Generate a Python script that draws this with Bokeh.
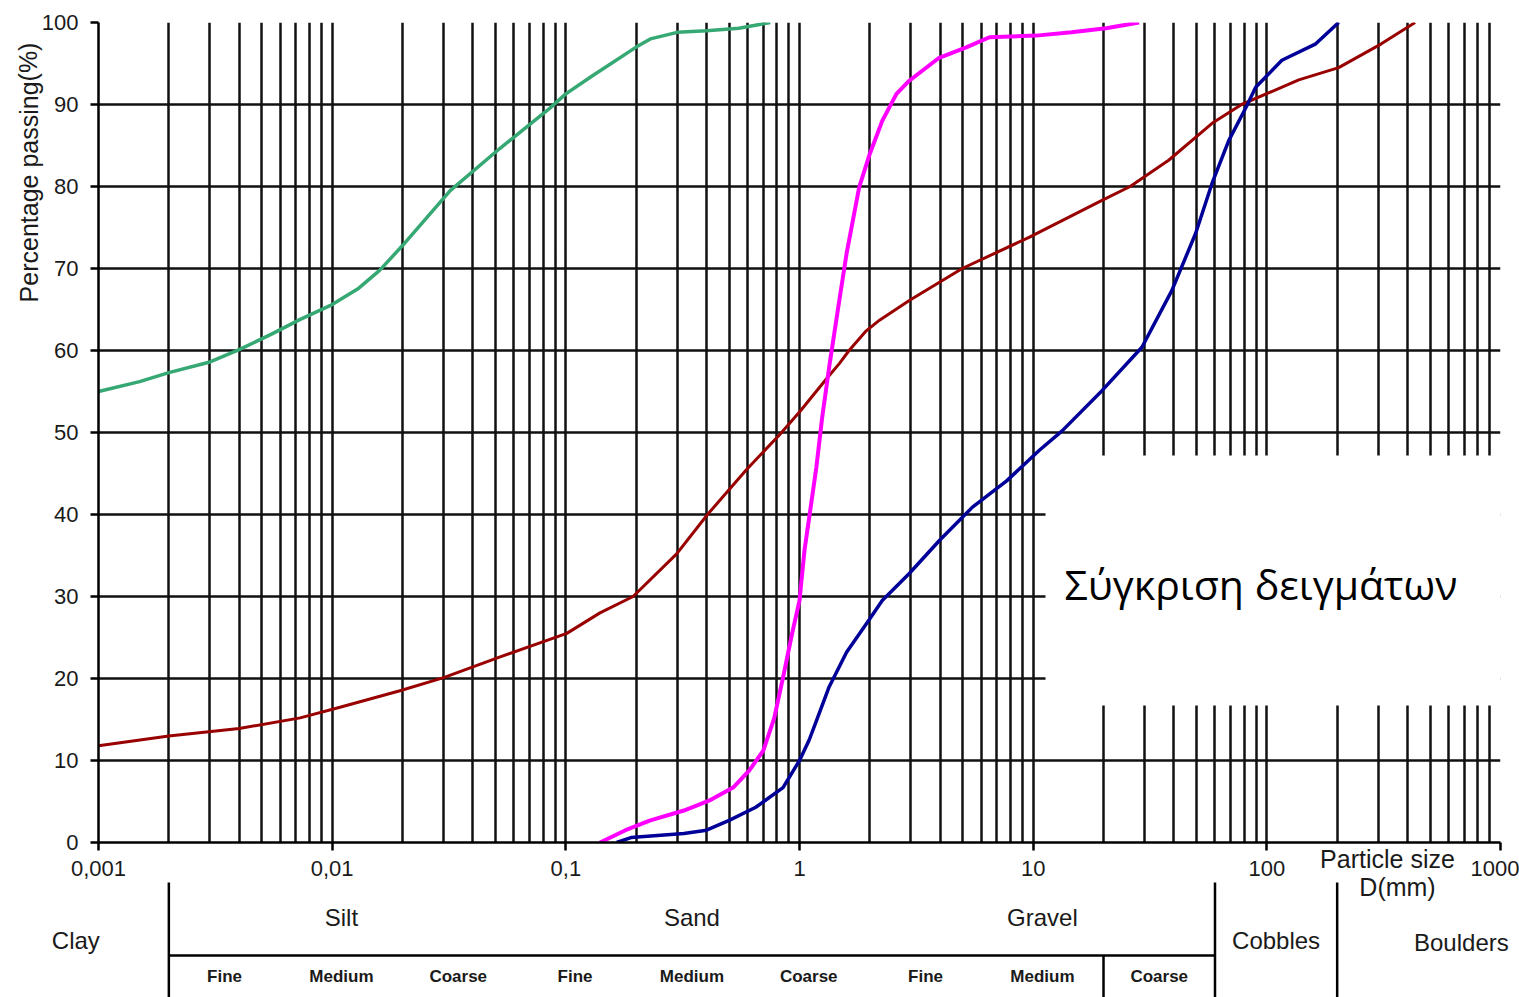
import numpy as np
from bokeh.plotting import figure
from bokeh.models import (FixedTicker, CustomJSTickFormatter, Label, BoxAnnotation,
                          ColumnDataSource, Range1d)
from bokeh.core.properties import value
from bokeh.embed import file_html
from bokeh.resources import INLINE

# ---- grading curves: particle size D (mm) vs percentage passing (%) ----
clay_d = [0.001, 0.0015, 0.002, 0.003, 0.004, 0.0055, 0.0073, 0.01, 0.013, 0.016, 0.02,
          0.032, 0.052, 0.085, 0.1, 0.13, 0.2, 0.23, 0.3, 0.4, 0.55, 0.75]
clay_p = [55.0, 56.2, 57.3, 58.6, 60.1, 62.0, 63.8, 65.6, 67.6, 69.8, 72.8,
          79.5, 84.6, 89.5, 91.3, 93.5, 97.0, 98.0, 98.8, 99.0, 99.3, 100.0]

sand_d = [0.14, 0.18, 0.23, 0.32, 0.41, 0.52, 0.61, 0.70, 0.78, 0.85, 0.93, 1.0,
          1.05, 1.10, 1.18, 1.25, 1.34, 1.48, 1.59, 1.80, 2.0, 2.26, 2.6, 2.95,
          3.96, 5.2, 6.5, 10.3, 14.6, 20.5, 28.4]
sand_p = [0.0, 1.5, 2.7, 3.9, 5.1, 6.7, 8.8, 11.2, 15.2, 20.1, 25.5, 29.5,
          35.6, 39.6, 45.7, 51.8, 58.0, 66.1, 71.8, 79.9, 84.0, 88.0, 91.3, 92.9,
          95.7, 97.0, 98.2, 98.4, 98.8, 99.3, 100.0]

gravel_d = [0.165, 0.19, 0.32, 0.40, 0.50, 0.65, 0.85, 1.0, 1.1, 1.18, 1.34, 1.59,
            1.99, 2.26, 2.95, 3.96, 5.5, 7.7, 10.6, 13.3, 19.7, 29.2, 39.2, 49.6,
            58.3, 68.7, 81.3, 89.6, 116.0, 162.0, 203.0]
gravel_p = [0.0, 0.6, 1.1, 1.5, 2.7, 4.3, 6.7, 10.0, 12.5, 14.8, 19.0, 23.2,
            27.2, 29.5, 32.8, 36.8, 40.9, 44.1, 47.8, 50.2, 55.1, 60.4, 67.3, 74.3,
            80.4, 85.6, 89.6, 92.1, 95.4, 97.4, 100.0]

mixed_d = [0.001, 0.002, 0.004, 0.0073, 0.0108, 0.0195, 0.03, 0.052, 0.101, 0.14,
           0.194, 0.298, 0.404, 0.59, 0.82, 1.0, 1.30, 1.48, 1.63, 1.93, 2.2, 2.95,
           4.97, 9.6, 19.7, 26.0, 38.0, 58.3, 78.0, 137.0, 203.0, 309.0, 431.0]
mixed_p = [11.8, 13.0, 13.9, 15.2, 16.5, 18.5, 20.1, 22.6, 25.5, 28.0,
           30.0, 35.2, 40.0, 45.4, 49.7, 52.5, 56.5, 58.4, 60.0, 62.4, 63.7, 66.1,
           70.0, 73.8, 78.3, 80.0, 83.2, 87.7, 90.0, 93.0, 94.5, 97.4, 100.0]

# ---- axis ticks ----
decades = [0.001, 0.01, 0.1, 1, 10, 100, 1000]
y_ticks = list(range(0, 101, 10))

# ---- soil fraction classification (mm) ----
fraction_limits = [0.002, 0.06, 2.0, 60.0, 200.0]
fraction_names = ["Silt", "Sand", "Gravel"]
outer_names = ["Clay", "Cobbles", "Boulders"]
sub_limits = [0.002, 0.006, 0.02, 0.06, 0.2, 0.6, 2.0, 6.0, 20.0, 60.0]
sub_names = ["Fine", "Medium", "Coarse"] * 3

FONT = "Liberation Sans"
INK = "#1a1a1a"

W, H = 1519, 997
LEFT, RIGHT, TOP, BOTTOM = 98, 19, 22, 155
FRAME_W = W - LEFT - RIGHT
FRAME_H = H - TOP - BOTTOM
PX_PER_DECADE = FRAME_W / 6.0


def below_axis(px):
    """y value (in % units) lying px pixels under the 0 % line."""
    return -px * 100.0 / FRAME_H


def y_at(py):
    """y value (in % units) of canvas row py."""
    return (H - BOTTOM - py) * 100.0 / FRAME_H


def x_at(px):
    """particle size (mm) of canvas column px."""
    return 10 ** (-3 + (px - LEFT) / PX_PER_DECADE)


p = figure(width=W, height=H, x_axis_type="log",
           x_range=Range1d(0.001, 1000), y_range=Range1d(0, 100),
           output_backend="svg", toolbar_location=None,
           min_border_left=LEFT, min_border_right=RIGHT,
           min_border_top=TOP, min_border_bottom=BOTTOM)
p.outline_line_color = None
p.background_fill_color = "white"
p.border_fill_color = "white"

minor = [m * d for d in decades[:-1] for m in range(2, 10)]
p.xaxis.ticker = FixedTicker(ticks=decades, minor_ticks=minor)
p.xaxis.formatter = CustomJSTickFormatter(code="return tick.toString().replace('.', ',')")
p.yaxis.ticker = FixedTicker(ticks=y_ticks)

for ax in (p.xaxis, p.yaxis):
    ax.axis_line_color = "black"
    ax.axis_line_width = 2.5
    ax.major_tick_line_color = "black"
    ax.major_tick_line_width = 2.5
    ax.major_tick_out = 8
    ax.major_tick_in = 0
    ax.minor_tick_line_color = None
    ax.major_label_text_font = FONT
    ax.major_label_text_font_size = "22px"
    ax.major_label_text_color = INK
p.yaxis.major_label_standoff = 12
p.xaxis.major_label_standoff = 10

GRID_W = 2.5
p.xgrid.grid_line_color = "#111111"
p.xgrid.grid_line_width = GRID_W
p.xgrid.minor_grid_line_color = "#111111"
p.xgrid.minor_grid_line_width = GRID_W
p.ygrid.grid_line_color = "#111111"
p.ygrid.grid_line_width = GRID_W

# grading curves
p.line(clay_d, clay_p, line_color="#36A874", line_width=3.5)
p.line(mixed_d, mixed_p, line_color="#990000", line_width=3)
p.line(sand_d, sand_p, line_color="#FF00FF", line_width=4)
p.line(gravel_d, gravel_p, line_color="#000099", line_width=3.5)

# axis titles drawn in the margins
titles = ColumnDataSource(dict(
    x=[x_at(28), x_at(1387), x_at(1397)],
    y=[y_at(172), y_at(858), y_at(886)],
    t=["Percentage passing(%)", "Particle size", "D(mm)"],
    a=[np.pi / 2, 0.0, 0.0],
    s=["25px", "25px", "25px"],
))
p.text("x", "y", text="t", angle="a", text_font_size="s", source=titles,
       text_align="center", text_baseline="middle", text_font=value(FONT),
       text_color=INK, level="annotation")

# ---- classification table under the axis ----
t_top, t_mid, t_bot = below_axis(40), below_axis(113), below_axis(160)
vx = [fraction_limits[0], fraction_limits[3], fraction_limits[4], sub_limits[8]]
seg = ColumnDataSource(dict(x0=vx + [fraction_limits[0]],
                            y0=[t_top, t_top, t_top, t_mid, t_mid],
                            x1=vx + [fraction_limits[3]],
                            y1=[t_bot] * 4 + [t_mid]))
p.segment("x0", "y0", "x1", "y1", source=seg, line_color="black", line_width=2.5,
          level="annotation")

main_x = [np.sqrt(a * b) for a, b in zip(fraction_limits[:3], fraction_limits[1:4])]
main_src = ColumnDataSource(dict(x=main_x, y=[below_axis(75)] * 3, t=fraction_names))
p.text("x", "y", text="t", source=main_src, text_align="center", text_baseline="middle",
       text_font=value(FONT), text_font_size="24px", text_color=INK, level="annotation")

outer_x = [0.0008, np.sqrt(fraction_limits[3] * fraction_limits[4]), 680.0]
outer_src = ColumnDataSource(dict(x=outer_x, y=[below_axis(98), below_axis(98), below_axis(100)],
                                  t=outer_names))
p.text("x", "y", text="t", source=outer_src, text_align="center", text_baseline="middle",
       text_font=value(FONT), text_font_size="24px", text_color=INK, level="annotation")

sub_x = [np.sqrt(a * b) for a, b in zip(sub_limits[:-1], sub_limits[1:])]
sub_src = ColumnDataSource(dict(x=sub_x, y=[below_axis(134)] * 9, t=sub_names))
p.text("x", "y", text="t", source=sub_src, text_align="center", text_baseline="middle",
       text_font=value(FONT), text_font_size="17px", text_font_style="bold",
       text_color=INK, level="annotation")

# caption panel over the lower right of the grid
p.add_layout(BoxAnnotation(left=1045 - LEFT, right=W - LEFT, bottom=842 - 705, top=842 - 455,
                           left_units="screen", right_units="screen",
                           bottom_units="screen", top_units="screen",
                           fill_color="white", fill_alpha=1.0, line_color=None))
p.add_layout(Label(x=1064 - LEFT, y=842 - 583, x_units="screen", y_units="screen",
                   text="Σύγκριση δειγμάτων", text_align="left", text_baseline="middle",
                   text_font="Open Sans", text_font_size="41px", text_color="black"))

open("out.html", "w").write(file_html(p, INLINE))
